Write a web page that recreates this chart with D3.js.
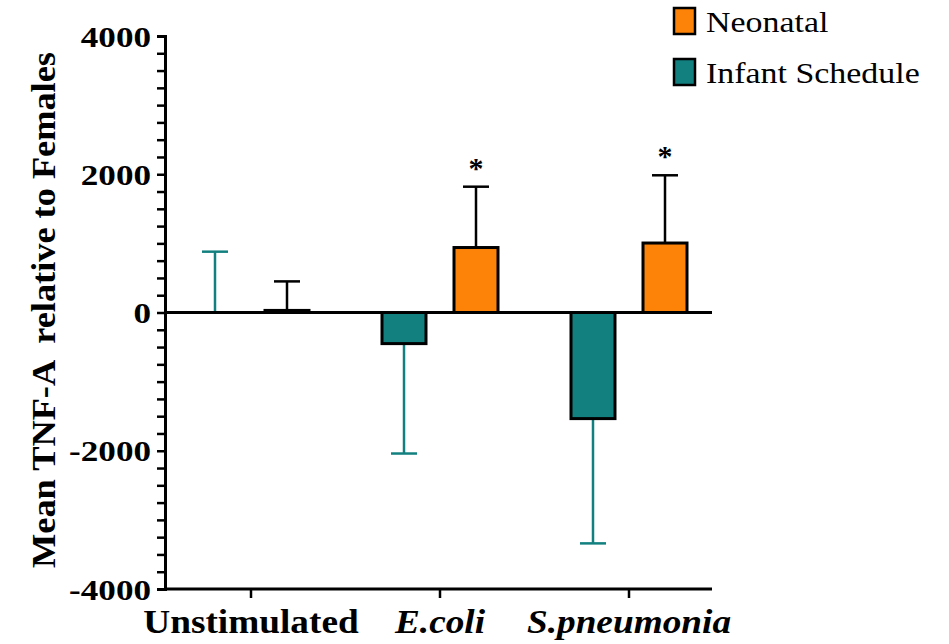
<!DOCTYPE html>
<html>
<head>
<meta charset="utf-8">
<script src="https://cdn.jsdelivr.net/npm/d3@7"></script>
<style>
  body { margin: 0; background: #fff; }
  text { font-family: "Liberation Serif", "Times New Roman", serif; fill: #000; }
</style>
</head>
<body>
<script>
// chart data
var categories = ["Unstimulated", "E.coli", "S.pneumonia"];
var series = ["Infant Schedule", "Neonatal"];
var infantMean = [0, -450, -1535];
var infantErr = [880, -2040, -3340];   // error bar end values
var neonatalMean = [30, 940, 1005];
var neonatalErr = [450, 1820, 1985];
var starred = [false, true, true];
var yTicks = [-4000, -2000, 0, 2000, 4000];

var w = 949, h = 644;
var colors = { "Infant Schedule": "#12807f", "Neonatal": "#fd8208" };
var errColors = { "Infant Schedule": "#12807f", "Neonatal": "#000" };

var svg = d3.select("body").append("svg")
    .attr("width", w)
    .attr("height", h);

// the reference text is set a bit wider than Liberation Serif, so stretch it
function stretch(sel, k){
    sel.each(function(){
        var len = this.getComputedTextLength();
        d3.select(this)
            .attr("textLength", len * k)
            .attr("lengthAdjust", "spacingAndGlyphs");
    });
}

// scales
var x = d3.scaleBand()
    .domain(categories)
    .range([156.5, 723.5])
    .padding(0);

var xs = d3.scaleBand()
    .domain(series)
    .range([-58, 58])
    .paddingInner(0.389)
    .paddingOuter(0);

var y = d3.scaleLinear()
    .domain([-4000, 4000])
    .range([589, 36]);

var axisX = 165;

// build rows
var rows = [];
categories.forEach(function(c, i){
    rows.push({cat: c, s: "Infant Schedule", v: infantMean[i], e: infantErr[i], star: false});
    rows.push({cat: c, s: "Neonatal", v: neonatalMean[i], e: neonatalErr[i], star: starred[i]});
});

function cx(d){ return x(d.cat) + x.bandwidth() / 2 + xs(d.s) + xs.bandwidth() / 2; }

// error bars (drawn first so bars sit over them)
var err = svg.append("g").selectAll("g")
    .data(rows)
    .enter().append("g")
    .attr("stroke", function(d){ return errColors[d.s]; })
    .attr("stroke-width", 2.5);

err.append("line")
    .attr("x1", cx).attr("x2", cx)
    .attr("y1", function(d){ return y(d.v); })
    .attr("y2", function(d){ return y(d.e); });

err.append("line")
    .attr("x1", function(d){ return cx(d) - 13; })
    .attr("x2", function(d){ return cx(d) + 13; })
    .attr("y1", function(d){ return y(d.e); })
    .attr("y2", function(d){ return y(d.e); });

// bars
svg.append("g").selectAll("rect")
    .data(rows.filter(function(d){ return d.v !== 0; }))
    .enter().append("rect")
    .attr("x", function(d){ return cx(d) - xs.bandwidth() / 2; })
    .attr("width", xs.bandwidth())
    .attr("y", function(d){ return y(Math.max(0, d.v)); })
    .attr("height", function(d){ return Math.abs(y(d.v) - y(0)); })
    .attr("fill", function(d){ return colors[d.s]; })
    .attr("stroke", "#000")
    .attr("stroke-width", 3);

// stars
svg.append("g").selectAll("text")
    .data(rows.filter(function(d){ return d.star; }))
    .enter().append("text")
    .attr("x", cx)
    .attr("y", function(d){ return y(d.e) - 9; })
    .attr("text-anchor", "middle")
    .style("font-size", "30px")
    .style("font-weight", "bold")
    .text("*");

// zero line
svg.append("line")
    .attr("x1", axisX).attr("x2", 712)
    .attr("y1", y(0)).attr("y2", y(0))
    .attr("stroke", "#000")
    .attr("stroke-width", 3);

// y axis with minor ticks
var yAxis = svg.append("g")
    .attr("transform", "translate(" + axisX + ",0)")
    .call(d3.axisLeft(y).tickValues(d3.range(-4000, 4001, 250)).tickSize(8).tickFormat(""));
yAxis.select(".domain").attr("stroke-width", 3);
yAxis.selectAll(".tick line").attr("stroke-width", 2.5);

svg.append("g").selectAll("text")
    .data(yTicks)
    .enter().append("text")
    .attr("x", 151)
    .attr("y", function(d){ return y(d); })
    .attr("dy", "0.35em")
    .attr("text-anchor", "end")
    .style("font-size", "30px")
    .style("font-weight", "bold")
    .text(function(d){ return d; })
    .call(stretch, 1.17);

// x axis
var xAxis = svg.append("g")
    .attr("transform", "translate(0," + y(-4000) + ")")
    .call(d3.axisBottom(x).tickSize(9).tickSizeOuter(0).tickFormat(""));
xAxis.select(".domain").attr("stroke-width", 3).attr("d", "M" + axisX + ",0H712");
xAxis.selectAll(".tick line").attr("stroke-width", 2.5);

svg.append("g").selectAll("text")
    .data(categories)
    .enter().append("text")
    .attr("x", function(d){ return x(d) + x.bandwidth() / 2; })
    .attr("y", 633)
    .attr("text-anchor", "middle")
    .style("font-size", "33px")
    .style("font-weight", "bold")
    .style("font-style", function(d, i){ return i > 0 ? "italic" : "normal"; })
    .text(function(d){ return d; })
    .call(stretch, 1.13);

// y title
svg.append("text")
    .attr("transform", "translate(55,310) rotate(-90)")
    .attr("text-anchor", "middle")
    .style("font-size", "33px")
    .style("font-weight", "bold")
    .style("white-space", "pre")
    .text("Mean TNF-A  relative to Females")
    .call(stretch, 1.1);

// legend
var legendItems = ["Neonatal", "Infant Schedule"];
var legend = svg.append("g").selectAll("g")
    .data(legendItems)
    .enter().append("g")
    .attr("transform", function(d, i){ return "translate(674," + (8 + i * 51) + ")"; });

legend.append("rect")
    .attr("width", 21)
    .attr("height", 26)
    .attr("fill", function(d){ return colors[d]; })
    .attr("stroke", "#000")
    .attr("stroke-width", 2.5);

legend.append("text")
    .attr("x", 32)
    .attr("y", 24)
    .style("font-size", "30px")
    .text(function(d){ return d; })
    .call(stretch, 1.13);
</script>
</body>
</html>
